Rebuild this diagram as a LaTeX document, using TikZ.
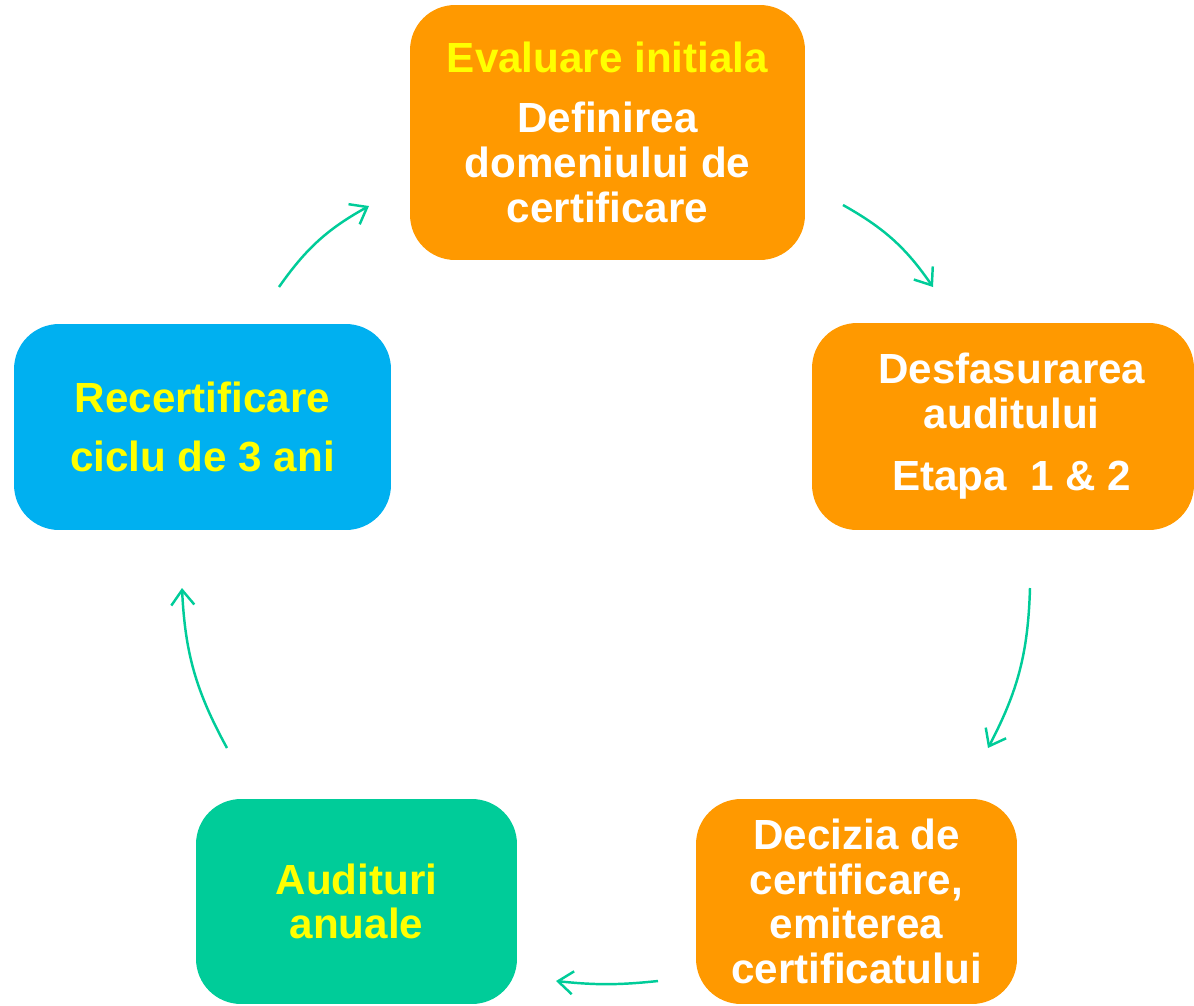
\documentclass[tikz,border=0pt]{standalone}
\usepackage{fontspec}
\setmainfont{Liberation Sans}
\usetikzlibrary{arrows.meta}

\definecolor{boxorange}{HTML}{FF9900}
\definecolor{boxblue}{HTML}{00B0F0}
\definecolor{boxgreen}{HTML}{00CC99}
\definecolor{hiyellow}{HTML}{FFFF00}

\begin{document}
\begin{tikzpicture}[x=0.02cm, y=-0.02cm]

    % Define some common styles
    \tikzset{
        stagebox/.style={rounded corners=0.9cm, inner sep=0pt, align=center,
            text=white, font=\bfseries\fontsize{24}{25.5}\selectfont},
        cyclearrow/.style={boxgreen, line width=1.4pt, bend left=13,
            -{Straight Barb[length=0.3cm, width=0.46cm, line width=1.4pt]}}
    }

    % Canvas
    \useasboundingbox (0,0) rectangle (1194,1005);

    % Stages of the cycle
    \node[stagebox, fill=boxorange, minimum width=7.9cm, minimum height=5.1cm]
        (initial) at (607.5,132.5)
        {\textcolor{hiyellow}{Evaluare initiala}\\[8.5pt]
         Definirea\\ domeniului de\\ certificare};
    \node[stagebox, fill=boxorange, minimum width=7.64cm, minimum height=4.14cm]
        (audit) at (1003,426.5)
        {\hspace*{10pt}Desfasurarea\\ \hspace*{10pt}auditului\\[10pt] \hspace*{10pt}Etapa\ \ 1 \& 2};
    \node[stagebox, fill=boxorange, minimum width=6.42cm, minimum height=4.1cm]
        (decision) at (856.5,901.5)
        {Decizia de\\ certificare,\\ emiterea\\ certificatului};
    \node[stagebox, fill=boxgreen, text=hiyellow, minimum width=6.42cm, minimum height=4.1cm]
        (annual) at (356.5,901.5)
        {Audituri\\ anuale};
    \node[stagebox, fill=boxblue, text=hiyellow, minimum width=7.54cm, minimum height=4.12cm]
        (recert) at (202.5,427)
        {Recertificare\\[8.5pt] ciclu de 3 ani};

    % Arrow ends
    \coordinate (a1s) at (843,205);  \coordinate (a1e) at (933,287);
    \coordinate (a2s) at (1030,588); \coordinate (a2e) at (988,748);
    \coordinate (a3s) at (658,981);  \coordinate (a3e) at (556,981);
    \coordinate (a4s) at (227,748);  \coordinate (a4e) at (182,588);
    \coordinate (a5s) at (279,287);  \coordinate (a5e) at (369,206);

    % Cycle arrows
    \draw[cyclearrow] (a1s) to (a1e);
    \draw[cyclearrow] (a2s) to (a2e);
    \draw[cyclearrow, bend left=6] (a3s) to (a3e);
    \draw[cyclearrow] (a4s) to (a4e);
    \draw[cyclearrow] (a5s) to (a5e);

\end{tikzpicture}
\end{document}
